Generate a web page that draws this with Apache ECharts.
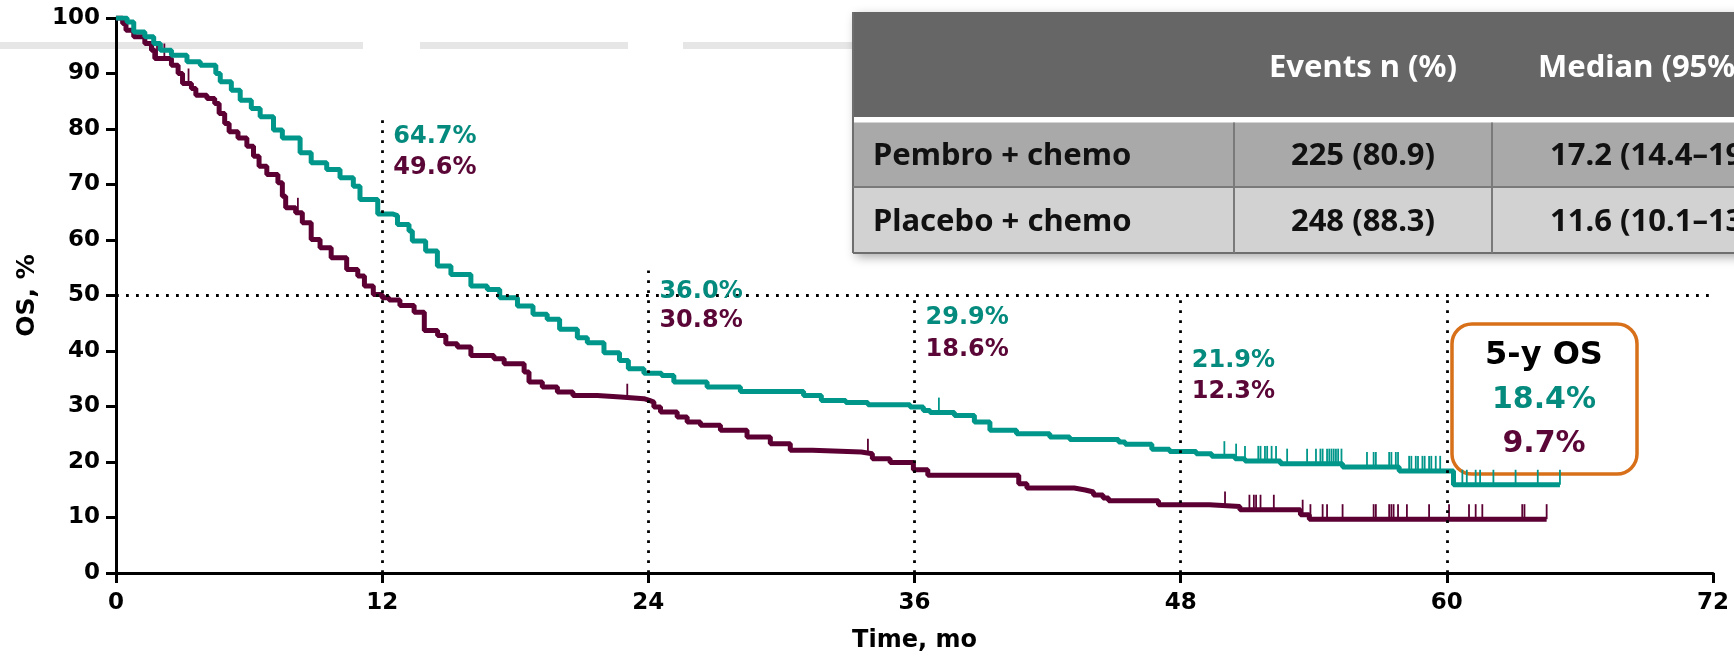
<!DOCTYPE html>
<html><head><meta charset="utf-8">
<script src="https://cdn.jsdelivr.net/npm/echarts@6/dist/echarts.min.js"></script>
<style>html,body{margin:0;padding:0;background:#fff;}#c{width:1734px;height:658px;}</style>
</head><body><div id="c"></div>
<script>
// ---------------- DATA ----------------
const xTicks = [0, 12, 24, 36, 48, 60, 72];
const yTicks = [0, 10, 20, 30, 40, 50, 60, 70, 80, 90, 100];

const pembroTimes = [0, 0.5, 0.8, 1.3, 1.7, 2.0, 2.5, 3.2, 3.8, 4.5, 4.7, 5.2, 5.6, 6.1, 6.5, 7.1, 7.5, 8.3, 8.8, 9.5, 10.1, 10.7, 11.0, 11.8,
  12.46, 12.69, 13.21, 13.36, 13.96, 14.49, 15.1, 16.0, 16.74, 17.3, 18.1, 18.8, 19.44, 20.0, 20.8, 21.25, 22.0, 22.7, 23.1, 23.8,
  24.6, 25.15, 26.65, 28.15, 31.0, 31.8, 32.9, 33.9, 35.8, 36.4, 36.7, 37.8, 38.7, 39.4, 40.6, 42.1, 43.0, 45.2, 45.5, 46.7, 47.5,
  48.7, 49.4, 50.45, 50.9, 52.5, 55.3, 57.85, 60.3, 65.1];
const pembroSurv = [100, 99.3, 97.5, 96.6, 95.4, 94.2, 93.3, 92.1, 91.5, 90.0, 88.5, 87.0, 85.2, 83.7, 82.2, 79.8, 78.4, 75.7, 73.9, 72.7, 71.2, 69.7, 67.3, 64.7,
  64.4, 62.8, 61.6, 59.8, 58.0, 55.3, 53.8, 51.7, 51.1, 49.6, 48.1, 46.6, 45.7, 43.9, 42.4, 41.5, 39.7, 38.3, 36.8, 36.0,
  35.6, 34.4, 33.5, 32.7, 32.0, 31.1, 30.7, 30.3, 29.9, 29.3, 28.9, 28.4, 27.2, 25.7, 25.1, 24.5, 24.05, 23.6, 23.2, 22.3, 21.9,
  21.5, 21.05, 20.6, 20.2, 19.7, 19.1, 18.4, 15.9, 15.9];
const pembroCensor = [37.1, 49.97, 50.5, 50.9, 51.5, 51.6, 51.8, 51.9, 52.1, 52.3, 52.8, 53.7, 54.1, 54.3, 54.4, 54.6, 54.7, 54.8, 54.9, 55.0, 55.1, 55.25,
  56.4, 56.7, 56.8, 57.4, 57.5, 57.7, 57.8, 58.3, 58.4, 58.6, 58.7, 58.9, 59.0, 59.2, 59.3, 59.5, 59.7, 60.7, 60.9, 61.3, 61.5, 62.1, 63.1, 64.1, 65.1];

const placeboTimes = [0, 0.3, 0.45, 0.8, 1.3, 1.6, 1.75, 2.5, 2.8, 3.0, 3.4, 3.6, 4.1, 4.45, 4.65, 4.9, 5.1, 5.5, 5.9, 6.2, 6.45, 6.8, 7.3, 7.5, 7.65, 8.1, 8.4, 8.8, 9.2, 9.7, 10.4, 10.9, 11.2, 11.6, 12.0,
  12.31, 12.8, 13.44, 13.9, 14.5, 14.87, 15.39, 16.0, 17.04, 17.5, 18.4, 18.62, 19.22, 19.9, 20.6, 21.7, 22.75, 23.8, 24.05, 24.25, 24.55, 25.3, 25.75, 26.35, 27.25, 28.45, 29.5, 30.4, 31.4, 33.6, 34.1, 34.9, 35.95, 36.6,
  40.7, 41.07, 43.2, 43.7, 44.07, 44.5, 44.75, 47.0, 49.3, 50.67, 53.4, 53.8, 64.5];
const placeboSurv = [100, 99.0, 97.8, 96.6, 95.4, 94.2, 92.7, 91.5, 90.0, 88.2, 87.3, 86.1, 85.5, 84.6, 82.8, 81.0, 79.5, 78.4, 76.9, 75.1, 73.3, 71.8, 70.3, 67.9, 65.8, 64.9, 63.1, 60.1, 58.6, 56.8, 54.7, 53.5, 51.7, 50.2, 49.6,
  49.2, 48.2, 47.0, 43.7, 42.8, 41.3, 40.7, 39.2, 38.6, 37.7, 36.2, 34.4, 33.5, 32.6, 32.0, 31.7, 31.4, 31.1, 30.8, 29.9, 29.0, 28.1, 27.2, 26.6, 25.7, 24.5, 23.3, 22.1, 21.8, 21.5, 20.6, 19.9, 18.6, 17.6,
  16.1, 15.3, 14.95, 14.6, 14.05, 13.5, 13.0, 12.3, 12.0, 11.4, 10.5, 9.7, 9.7];
const placeboCensor = [1.85, 2.18, 3.27, 8.2, 23.05, 33.9, 50.0, 51.1, 51.3, 51.4, 51.6, 52.2, 53.5, 53.85, 54.4, 54.6, 55.3, 56.7, 56.8, 57.4, 57.5, 57.6, 57.8, 58.2,
  59.2, 60.1, 61.0, 61.3, 61.6, 63.4, 63.5, 64.5];

const milestoneMonths = [12, 24, 36, 48];
const pembroMilestone = ['64.7%', '36.0%', '29.9%', '21.9%'];
const placeboMilestone = ['49.6%', '30.8%', '18.6%', '12.3%'];
const fiveYearTitle = '5-y OS';
const fiveYearOS = ['18.4%', '9.7%'];

const tableHeader = ['', 'Events n (%)', 'Median (95% CI), mo'];
const tableArms = ['Pembro + chemo', 'Placebo + chemo'];
const tableEvents = ['225 (80.9)', '248 (88.3)'];
const tableMedian = ['17.2 (14.4\u201319.7)', '11.6 (10.1\u201313.7)'];

// ---------------- STYLE / LAYOUT ----------------
const TEAL = '#00978a', TEAL_TXT = '#058a7e';
const MAROON = '#5c0034', MAROON_TXT = '#5a0636';
const refLines = [{m: 12, top: 82}, {m: 24, top: 54.5}, {m: 36, top: 50}, {m: 48, top: 50}, {m: 60, top: 50}];
const labelLayout = {dx: 0.5, pembroY: [78.6, 50.7, 45.9, 38.3], placeboY: [73.0, 45.4, 40.3, 32.7]};
const BOLD = 'DejaVu Sans';

function kmData(t, s) { return t.map((v, i) => [v, s[i]]); }
function survAt(t, s, x) { let v = s[0]; for (let i = 0; i < t.length; i++) { if (t[i] <= x) v = s[i]; } return v; }
function censorData(t, s, c) { return c.map(x => [x, survAt(t, s, x)]); }

const dotted = {type: [2.8, 7.2], width: 2.8, color: '#000'};
const markLineData = [[{coord: [0, 50]}, {coord: [xTicks[xTicks.length - 1], 50]}]]
  .concat(refLines.map(r => [{coord: [r.m, 0]}, {coord: [r.m, r.top]}]));

const labelData = [];
milestoneMonths.forEach((m, i) => {
  labelData.push({value: [m + labelLayout.dx, labelLayout.pembroY[i]], name: pembroMilestone[i], label: {color: TEAL_TXT}});
  labelData.push({value: [m + labelLayout.dx, labelLayout.placeboY[i]], name: placeboMilestone[i], label: {color: MAROON_TXT}});
});

// table graphics
const TX = 853, TY = 12, TW = 1000;
const colX = [TX, 1234, 1492];
const rowY = [TY, 117, 122.5, 187, 253];
const tableEls = [
  {type: 'rect', shape: {x: TX, y: TY, width: TW, height: rowY[4] - TY}, style: {fill: '#fff', shadowBlur: 10, shadowColor: 'rgba(0,0,0,0.35)', shadowOffsetX: 3, shadowOffsetY: 4}},
  {type: 'rect', shape: {x: TX, y: TY, width: TW, height: rowY[1] - TY}, style: {fill: '#666666'}},
  {type: 'rect', shape: {x: TX, y: rowY[2], width: TW, height: rowY[3] - rowY[2]}, style: {fill: '#a9a9a9'}},
  {type: 'rect', shape: {x: TX, y: rowY[3], width: TW, height: rowY[4] - rowY[3]}, style: {fill: '#d2d2d2'}},
  {type: 'line', shape: {x1: TX, y1: TY, x2: TX, y2: rowY[4]}, style: {stroke: '#6e6e6e', lineWidth: 2}},
  {type: 'line', shape: {x1: TX, y1: rowY[3], x2: TX + TW, y2: rowY[3]}, style: {stroke: '#7a7a7a', lineWidth: 2}},
  {type: 'line', shape: {x1: TX, y1: rowY[4], x2: TX + TW, y2: rowY[4]}, style: {stroke: '#6e6e6e', lineWidth: 2}},
  {type: 'line', shape: {x1: colX[1], y1: rowY[2], x2: colX[1], y2: rowY[4]}, style: {stroke: '#7a7a7a', lineWidth: 2}},
  {type: 'line', shape: {x1: colX[2], y1: rowY[2], x2: colX[2], y2: rowY[4]}, style: {stroke: '#7a7a7a', lineWidth: 2}}
];
const tFont = {fontFamily: 'Noto Sans', fontWeight: 'bold', fontSize: 31};
tableEls.push({type: 'text', style: Object.assign({text: tableHeader[1], x: (colX[1] + colX[2]) / 2, y: 68, fill: '#fff', align: 'center', verticalAlign: 'middle'}, tFont)});
tableEls.push({type: 'text', style: Object.assign({text: tableHeader[2], x: 1538, y: 68, fill: '#fff', align: 'left', verticalAlign: 'middle'}, tFont)});
const rowCenters = [156, 222];
tableArms.forEach((a, i) => {
  tableEls.push({type: 'text', style: Object.assign({text: a, x: 873, y: rowCenters[i], fill: '#111', align: 'left', verticalAlign: 'middle'}, tFont)});
  tableEls.push({type: 'text', style: Object.assign({text: tableEvents[i], x: (colX[1] + colX[2]) / 2, y: rowCenters[i], fill: '#111', align: 'center', verticalAlign: 'middle'}, tFont)});
  tableEls.push({type: 'text', style: Object.assign({text: tableMedian[i], x: 1550, y: rowCenters[i], fill: '#111', align: 'left', verticalAlign: 'middle'}, tFont)});
});

const bands = [[0, 363], [420, 628], [683, 853]].map(b => ({type: 'rect', z: -10, shape: {x: b[0], y: 42, width: b[1] - b[0], height: 7}, style: {fill: '#e6e6e6'}}));

const box = [
  {type: 'rect', shape: {x: 1452, y: 324, width: 185, height: 150, r: 20}, style: {fill: '#fff', stroke: '#d8701a', lineWidth: 3.5}},
  {type: 'text', style: {text: fiveYearTitle, x: 1544, y: 356, fill: '#000', align: 'center', verticalAlign: 'middle', fontFamily: BOLD, fontWeight: 'bold', fontSize: 32}},
  {type: 'text', style: {text: fiveYearOS[0], x: 1544, y: 400, fill: TEAL_TXT, align: 'center', verticalAlign: 'middle', fontFamily: BOLD, fontWeight: 'bold', fontSize: 30}},
  {type: 'text', style: {text: fiveYearOS[1], x: 1544, y: 444, fill: MAROON_TXT, align: 'center', verticalAlign: 'middle', fontFamily: BOLD, fontWeight: 'bold', fontSize: 30}}
];

const chart = echarts.init(document.getElementById('c'));
chart.setOption({
  animation: false,
  backgroundColor: '#fff',
  grid: {left: 116, right: 21, top: 18, bottom: 83},
  xAxis: {
    type: 'value', min: xTicks[0], max: xTicks[xTicks.length - 1], interval: xTicks[1] - xTicks[0],
    name: 'Time, mo', nameLocation: 'middle', nameGap: 56,
    nameTextStyle: {fontFamily: BOLD, fontWeight: 'bold', fontSize: 24, color: '#000'},
    axisLine: {lineStyle: {color: '#000', width: 3}},
    axisTick: {show: true, length: 10, lineStyle: {color: '#000', width: 3}},
    axisLabel: {fontFamily: BOLD, fontWeight: 'bold', fontSize: 23, color: '#000', margin: 19},
    splitLine: {show: false}
  },
  yAxis: {
    type: 'value', min: yTicks[0], max: yTicks[yTicks.length - 1], interval: yTicks[1] - yTicks[0],
    name: 'OS, %', nameLocation: 'middle', nameGap: 76, nameRotate: 90,
    nameTextStyle: {fontFamily: BOLD, fontWeight: 'bold', fontSize: 25, color: '#000'},
    axisLine: {show: true, lineStyle: {color: '#000', width: 3}},
    axisTick: {show: true, length: 10, lineStyle: {color: '#000', width: 3}},
    axisLabel: {fontFamily: BOLD, fontWeight: 'bold', fontSize: 23, color: '#000', margin: 16},
    splitLine: {show: false}
  },
  graphic: {elements: bands.concat([{type: 'group', z: 100, children: tableEls}, {type: 'group', z: 100, children: box}])},
  series: [
    {type: 'scatter', data: [], silent: true, z: 1,
      markLine: {silent: true, symbol: 'none', label: {show: false}, lineStyle: dotted, data: markLineData}},
    {type: 'line', name: 'Placebo + chemo', step: 'end', data: kmData(placeboTimes, placeboSurv), showSymbol: false, symbol: 'none',
      lineStyle: {color: MAROON, width: 5}, z: 3},
    {type: 'line', name: 'Pembro + chemo', step: 'end', data: kmData(pembroTimes, pembroSurv), showSymbol: false, symbol: 'none',
      lineStyle: {color: TEAL, width: 5}, z: 4},
    {type: 'scatter', data: censorData(placeboTimes, placeboSurv, placeboCensor), symbol: 'rect', symbolSize: [1.8, 15], symbolOffset: [0, -7.5],
      itemStyle: {color: MAROON, opacity: 1}, silent: true, z: 3},
    {type: 'scatter', data: censorData(pembroTimes, pembroSurv, pembroCensor), symbol: 'rect', symbolSize: [1.8, 15], symbolOffset: [0, -7.5],
      itemStyle: {color: TEAL, opacity: 1}, silent: true, z: 4},
    {type: 'scatter', data: labelData, symbolSize: 0, silent: true, z: 5, itemStyle: {opacity: 1},
      label: {show: true, position: 'right', distance: 0, formatter: p => p.name, fontFamily: BOLD, fontWeight: 'bold', fontSize: 24, opacity: 1}}
  ]
});
</script></body></html>
